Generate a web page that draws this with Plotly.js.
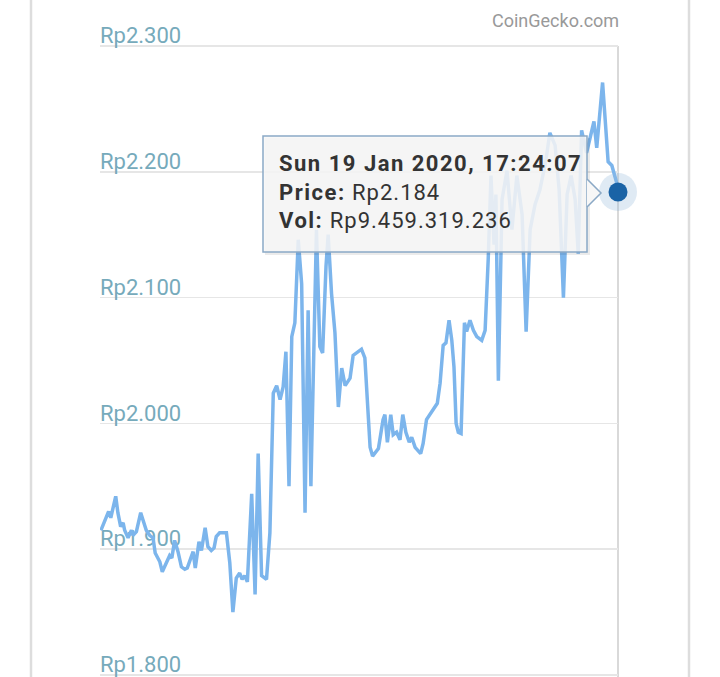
<!DOCTYPE html>
<html>
<head>
<meta charset="utf-8">
<script src="https://cdn.plot.ly/plotly-3.0.1.min.js"></script>
<style>
  html, body { margin: 0; padding: 0; background: #ffffff; overflow: hidden; }
  #chart { width: 720px; height: 700px; }
  .annotation[data-index="1"] text { letter-spacing: 1px; }
  .annotation[data-index="1"] text tspan[style*="bold"] { letter-spacing: 1.5px; }
</style>
</head>
<body>
<div id="chart"></div>
<script>
// hours before the highlighted point (Sun 19 Jan 2020, 17:24:07)
var hoursBefore = [
  -167.7, -166.0, -165.2, -164.5, -162.9, -162.2, -161.3, -160.5, -160.0, -158.9,
  -157.8, -157.3, -156.2, -154.8, -153.7, -153.0, -151.9, -150.8, -150.1, -148.6,
  -147.8, -146.5, -145.4, -144.7, -143.8, -142.7, -141.6, -140.5, -139.7, -137.8,
  -137.1, -135.9, -135.1, -133.9, -133.0, -131.9, -131.0, -130.3, -129.2, -127.0,
  -125.9, -124.9, -123.8, -122.7, -121.9, -121.1, -120.2, -118.8, -117.7, -116.7,
  -115.6, -114.0, -112.9, -111.8, -110.7, -109.6, -108.6, -107.7, -106.7, -105.8,
  -104.8, -103.7, -102.6, -101.5, -100.5, -99.6, -97.8, -96.7, -95.8, -94.7,
  -94.0, -92.9, -91.8, -90.7, -89.6, -88.5, -86.9, -85.9, -84.8, -83.2,
  -82.1, -80.4, -79.6, -77.7, -76.2, -75.6, -74.8, -73.7, -72.9, -71.8,
  -70.7, -69.8, -68.8, -67.7, -66.9, -65.8, -64.0, -63.2, -62.1, -61.0,
  -59.4, -58.6, -57.7, -56.7, -55.8, -54.8, -53.9, -53.2, -52.5, -51.8,
  -50.9, -49.8, -49.1, -48.0, -46.9, -45.8, -44.2, -43.1, -42.1, -41.2,
  -40.2, -39.6, -38.8, -37.6, -36.0, -34.4, -32.8, -31.1, -29.8, -28.5,
  -26.9, -25.3, -23.4, -22.1, -20.4, -19.1, -17.7, -16.5, -15.2, -13.9,
  -12.9, -11.8, -10.2, -9.1, -7.8, -6.9, -5.0, -3.2, -2.0, -0.4, 0
];
var priceIDR = [
  1915, 1926, 1930, 1925, 1942, 1929, 1918, 1921, 1915, 1909,
  1915, 1911, 1914, 1929, 1921, 1915, 1911, 1909, 1897, 1890,
  1882, 1890, 1895, 1893, 1907, 1898, 1886, 1884, 1885, 1898,
  1885, 1906, 1899, 1917, 1902, 1899, 1901, 1910, 1913, 1913,
  1889, 1850, 1877, 1881, 1876, 1879, 1874, 1944, 1864, 1976,
  1879, 1876, 1913, 2024, 2030, 2019, 2029, 2057, 1950, 2069,
  2080, 2146, 2111, 1929, 2090, 1950, 2154, 2061, 2056, 2125,
  2150, 2103, 2072, 2013, 2044, 2030, 2036, 2054, 2056, 2059,
  2052, 1981, 1974, 1980, 2003, 2007, 1985, 2007, 1991, 1993,
  1987, 2007, 1993, 1985, 1989, 1981, 1976, 1984, 2003, 2007,
  2012, 2016, 2032, 2062, 2064, 2082, 2066, 2045, 2000, 1993,
  1992, 2080, 2073, 2082, 2074, 2069, 2066, 2074, 2130, 2197,
  2142, 2182, 2034, 2178, 2201, 2154, 2197, 2166, 2073, 2154,
  2174, 2186, 2209, 2231, 2221, 2186, 2100, 2182, 2197, 2178,
  2135, 2233, 2215, 2228, 2240, 2219, 2271, 2208, 2205, 2191, 2184
];
var tickValues = [1800, 1900, 2000, 2100, 2200, 2300];
var tickLabels = ["Rp1.800", "Rp1.900", "Rp2.000", "Rp2.100", "Rp2.200", "Rp2.300"];
var tooltipDate = "Sun 19 Jan 2020, 17:24:07";
var tooltipPrice = "Rp2.184";
var tooltipVol = "Rp9.459.319.236";
var watermark = "CoinGecko.com";

var lastX = [hoursBefore[hoursBefore.length - 1]];
var lastY = [priceIDR[priceIDR.length - 1]];

var traces = [
  {
    x: hoursBefore, y: priceIDR, type: 'scatter', mode: 'lines',
    line: { color: '#7cb5ec', width: 3.5 }, hoverinfo: 'skip'
  },
  {
    x: lastX, y: lastY, type: 'scatter', mode: 'markers', cliponaxis: false,
    marker: { size: 38, color: 'rgba(150,185,220,0.3)', line: { width: 0 } }, hoverinfo: 'skip'
  },
  {
    x: lastX, y: lastY, type: 'scatter', mode: 'markers', cliponaxis: false,
    marker: { size: 19, color: '#1a63a6', line: { width: 0 } }, hoverinfo: 'skip'
  }
];

// pixel helpers for decorations (paper coords); figure is 700 tall, window shows 677
function px(x) { return (x - 100) / 518; }
function py(y) { return (700 - y) / 700; }

var layout = {
  width: 720, height: 700,
  margin: { l: 100, r: 102, t: 0, b: 0, pad: 0 },
  paper_bgcolor: '#ffffff', plot_bgcolor: '#ffffff',
  showlegend: false, hovermode: false,
  font: { family: 'Roboto, "Noto Sans", sans-serif' },
  xaxis: {
    range: [-168, 0], showgrid: false, zeroline: false, showticklabels: false,
    showline: false, ticks: ''
  },
  yaxis: {
    range: [1780.1, 2336.6], tickvals: tickValues, ticktext: tickLabels,
    ticklabelposition: 'inside top', layer: 'below traces',
    ticklabelshift: 5, ticklabelstandoff: -3,
    tickfont: { family: 'Roboto, sans-serif', size: 22, color: '#76aabb' },
    showgrid: true, gridcolor: '#e6e6e6', gridwidth: 1.5,
    zeroline: false, showline: false, ticks: ''
  },
  shapes: [
    { type: 'line', xref: 'paper', yref: 'paper', x0: px(31), x1: px(31), y0: -0.1, y1: 1.2,
      line: { color: '#dddddd', width: 2.5 }, layer: 'below' },
    { type: 'line', xref: 'paper', yref: 'paper', x0: px(689), x1: px(689), y0: -0.1, y1: 1.2,
      line: { color: '#dddddd', width: 2.5 }, layer: 'below' },
    { type: 'line', xref: 'paper', yref: 'y', x0: 1, x1: 1, y0: 1780, y1: 2300,
      line: { color: '#cccccc', width: 1.5 }, layer: 'below' },
    // tooltip shadow
    { type: 'rect', xref: 'paper', yref: 'paper', x0: px(265), x1: px(590), y0: py(255), y1: py(138),
      fillcolor: 'rgba(0,0,0,0.08)', line: { width: 0 } },
    // tooltip box
    { type: 'rect', xref: 'paper', yref: 'paper', x0: px(263), x1: px(587), y0: py(252), y1: py(136),
      fillcolor: 'rgba(247,247,247,0.86)', line: { color: '#8ba9c6', width: 1.5 } },
    // tooltip pointer
    { type: 'path', xref: 'paper', yref: 'paper',
      path: 'M ' + px(587) + ' ' + py(179) + ' L ' + px(601) + ' ' + py(193) + ' L ' + px(587) + ' ' + py(207),
      fillcolor: 'rgb(247,247,247)', line: { color: '#8ba9c6', width: 1.5 } }
  ],
  annotations: [
    { xref: 'paper', yref: 'paper', x: px(621), y: py(20), xanchor: 'right', yanchor: 'middle',
      text: watermark, showarrow: false,
      font: { family: 'Roboto, sans-serif', size: 18, color: '#999999' } },
    { xref: 'paper', yref: 'paper', x: px(277), y: py(149), xanchor: 'left', yanchor: 'top',
      align: 'left', showarrow: false,
      text: '<b>' + tooltipDate + '</b><br><b>Price:</b> ' + tooltipPrice + '<br><b>Vol:</b> ' + tooltipVol,
      font: { family: 'Roboto, sans-serif', size: 22, color: '#333333' } }
  ]
};

Plotly.newPlot('chart', traces, layout, { staticPlot: true, displayModeBar: false });
</script>
</body>
</html>
